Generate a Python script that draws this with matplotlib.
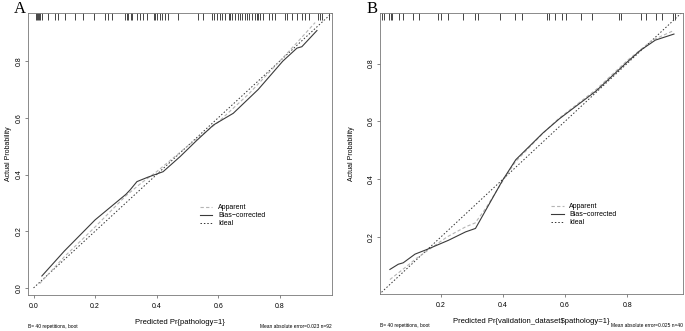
import numpy as np
import matplotlib.pyplot as plt

# panel A: training set calibration (bootstrap, B=40)
a_rug = [0.008, 0.011, 0.016, 0.019, 0.022, 0.027, 0.048, 0.070, 0.081, 0.102,
         0.135, 0.162, 0.195, 0.232, 0.243, 0.254, 0.298, 0.303, 0.308, 0.317,
         0.321, 0.336, 0.346, 0.357, 0.368, 0.390, 0.395, 0.401, 0.411, 0.417,
         0.428, 0.438, 0.471, 0.536, 0.552, 0.580, 0.585, 0.596, 0.607, 0.612,
         0.623, 0.634, 0.639, 0.645, 0.655, 0.666, 0.672, 0.677, 0.688, 0.693,
         0.699, 0.710, 0.720, 0.726, 0.731, 0.737, 0.747, 0.764, 0.775, 0.785,
         0.818, 0.824, 0.840, 0.856, 0.872, 0.883, 0.894, 0.926, 0.932, 0.937, 0.959]
a_app_x = [0.02, 0.10, 0.20, 0.30, 0.35, 0.40, 0.50, 0.60, 0.70, 0.80, 0.86, 0.915]
a_app_y = [0.015, 0.11, 0.215, 0.325, 0.37, 0.41, 0.50, 0.585, 0.685, 0.80, 0.87, 0.936]
a_bias_x = [0.027, 0.10, 0.20, 0.30, 0.314, 0.336, 0.37, 0.421, 0.476, 0.53,
            0.585, 0.649, 0.73, 0.81, 0.856, 0.872, 0.921]
a_bias_y = [0.042, 0.13, 0.24, 0.33, 0.346, 0.375, 0.39, 0.41, 0.463, 0.52,
            0.575, 0.616, 0.70, 0.80, 0.846, 0.851, 0.908]

# panel B: validation set
b_rug = [0.008, 0.016, 0.033, 0.038, 0.043, 0.065, 0.076, 0.108, 0.130, 0.190,
         0.201, 0.222, 0.271, 0.309, 0.320, 0.390, 0.439, 0.461, 0.542, 0.547,
         0.569, 0.591, 0.602, 0.650, 0.688, 0.775, 0.781, 0.846, 0.862, 0.894,
         0.911, 0.949, 0.954]
b_app_x = [0.035, 0.08, 0.12, 0.16, 0.22, 0.28, 0.31, 0.345, 0.40, 0.44,
           0.53, 0.58, 0.70, 0.80, 0.88, 0.95]
b_app_y = [0.052, 0.09, 0.125, 0.155, 0.20, 0.235, 0.248, 0.30, 0.395, 0.46,
           0.56, 0.61, 0.71, 0.81, 0.88, 0.914]
b_bias_x = [0.035, 0.062, 0.078, 0.116, 0.154, 0.224, 0.279, 0.311, 0.344, 0.398,
            0.441, 0.528, 0.582, 0.70, 0.799, 0.842, 0.891, 0.951]
b_bias_y = [0.087, 0.105, 0.11, 0.14, 0.156, 0.188, 0.217, 0.229, 0.292, 0.395,
            0.467, 0.559, 0.609, 0.705, 0.804, 0.845, 0.881, 0.902]

ticks = [0.0, 0.2, 0.4, 0.6, 0.8]

plt.rcParams['font.family'] = ['Liberation Sans', 'DejaVu Sans']

fig = plt.figure(figsize=(6.85, 3.31), dpi=100)
axA = fig.add_axes([0.0409, 0.1088, 0.4438, 0.852])
axB = fig.add_axes([0.5547, 0.1118, 0.4423, 0.849])

panels = [
    (axA, 'A', a_rug, a_app_x, a_app_y, a_bias_x, a_bias_y,
     (-0.018, 0.97), (-0.025, 0.97), 'Predicted Pr{pathology=1}',
     'Mean absolute error=0.023 n=92', (0.545, 0.345), -0.053),
    (axB, 'B', b_rug, b_app_x, b_app_y, b_bias_x, b_bias_y,
     (0.003, 0.98), (0.002, 0.975), 'Predicted Pr{validation_dataset$pathology=1}',
     'Mean absolute error=0.025 n=40', (0.545, 0.345), -0.083),
]

for ax, letter, rug, ax_x, ax_y, bx, by, xl, yl, xlabel, mae, legpos, ylab_x in panels:
    ax.plot([0, 1], [0, 1], ls=(0, (1.5, 2)), color='#333333', lw=0.7, label='Ideal', zorder=1)
    ax.plot(ax_x, ax_y, ls=(0, (3, 2)), color='#b5b5b5', lw=0.8, label='Apparent', zorder=2)
    ax.plot(bx, by, ls='-', color='#3a3a3a', lw=0.8, label='Bias\u2212corrected', zorder=3)
    # rug of predicted values along the top
    ax.vlines(rug, 1.0, 0.976, transform=ax.get_xaxis_transform(),
              color='#444444', lw=0.7)
    ax.set_xlim(*xl)
    ax.set_ylim(*yl)
    ax.set_xticks([t for t in ticks if xl[0] <= t <= xl[1]])
    ax.set_yticks([t for t in ticks if yl[0] <= t <= yl[1]])
    ax.set_xticklabels([f'{t:.1f}' for t in ax.get_xticks()])
    ax.set_yticklabels([f'{t:.1f}' for t in ax.get_yticks()], rotation=90, va='center')
    ax.tick_params(labelsize=5, length=2.5, width=0.5, color='#555555')
    ax.tick_params(axis='x', pad=3.5)
    ax.tick_params(axis='y', pad=1.5)
    for s in ax.spines.values():
        s.set_linewidth(0.6)
        s.set_color('#777777')
    ax.set_xlabel(xlabel, fontsize=5.5, labelpad=6)
    ax.set_ylabel('Actual Probability', fontsize=5)
    ax.yaxis.set_label_coords(ylab_x, 0.5)
    ax.text(-0.008, 1.014, letter, transform=ax.transAxes, fontsize=12,
            family='Liberation Serif', ha='right', va='center')
    ax.text(0.0, -0.113, 'B= 40 repetitions, boot', transform=ax.transAxes,
            fontsize=3.5, ha='left', va='center')
    ax.text(1.0, -0.113, mae, transform=ax.transAxes,
            fontsize=3.5, ha='right', va='center')
    h, l = ax.get_legend_handles_labels()
    order = [1, 2, 0]
    ax.legend([h[i] for i in order], [l[i] for i in order], loc='upper left',
              bbox_to_anchor=legpos, fontsize=5, frameon=False,
              handlelength=1.8, handletextpad=0.8, labelspacing=0.15)

fig.savefig('out.png', dpi=100)
